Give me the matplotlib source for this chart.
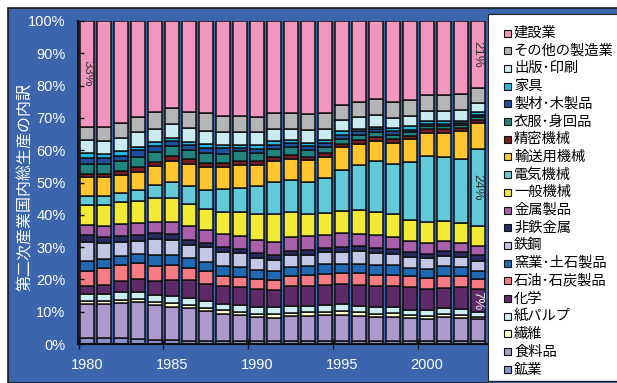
import numpy as np
import matplotlib
matplotlib.use('Agg')
import matplotlib.pyplot as plt
from matplotlib.patches import Rectangle

plt.rcParams['font.family'] = ['Noto Sans CJK JP', 'DejaVu Sans']

years = list(range(1980, 2004))

# shares of secondary-industry GDP (%), stacked bottom to top
mining = [1.8, 1.8, 1.8, 1.5, 1.2, 1.2, 1.0, 1.0, 1.0, 1.0, 1.0, 1.0,
          1.0, 1.0, 1.0, 1.0, 1.0, 1.0, 1.0, 1.0, 1.0, 1.0, 1.0, 1.0]
food = [10.6, 10.5, 10.9, 11.4, 10.9, 10.3, 10.2, 9.1, 8.4, 8.0, 7.4, 7.2,
        7.6, 7.8, 7.9, 8.0, 7.8, 7.4, 7.5, 7.1, 6.6, 7.3, 7.2, 6.7]
textile = [1.0, 1.0, 1.0, 1.0, 0.8, 1.2, 1.0, 1.0, 1.0, 0.9, 1.0, 1.0,
           1.0, 1.0, 1.0, 1.2, 1.0, 1.0, 1.0, 1.0, 1.0, 1.0, 0.8, 0.7]
pulp = [2.1, 2.1, 2.4, 2.3, 2.3, 2.1, 2.1, 2.3, 2.0, 2.2, 2.1, 2.2,
        2.3, 2.1, 2.1, 2.1, 1.9, 2.0, 2.0, 1.5, 1.8, 1.7, 1.8, 1.5]
chemical = [2.6, 3.0, 3.3, 3.9, 4.4, 5.0, 5.4, 5.2, 5.5, 5.6, 5.4, 5.2,
            6.0, 6.2, 6.2, 6.2, 6.6, 6.5, 6.5, 7.2, 6.5, 6.4, 6.7, 7.0]
petroleum = [4.5, 5.2, 5.0, 4.9, 4.6, 4.6, 3.9, 3.9, 3.1, 3.1, 3.1, 3.1,
             3.1, 3.2, 3.6, 3.4, 3.6, 3.6, 3.4, 3.3, 3.6, 3.8, 3.6, 3.3]
ceramic = [3.1, 2.7, 2.8, 2.9, 3.3, 3.1, 2.9, 2.9, 3.1, 2.9, 2.8, 2.8,
           2.8, 2.8, 3.0, 3.0, 2.9, 2.9, 3.1, 2.4, 2.6, 2.9, 2.7, 2.4]
steel = [6.0, 4.9, 4.3, 4.1, 5.0, 4.6, 4.3, 4.5, 4.4, 4.4, 3.9, 3.6,
         3.7, 3.6, 3.6, 3.7, 3.9, 3.8, 3.5, 3.3, 3.4, 3.1, 3.1, 3.1]
nonferrous = [1.9, 1.8, 1.9, 1.8, 1.8, 2.1, 1.3, 1.3, 1.5, 1.4, 1.5, 1.5,
              1.4, 1.3, 1.3, 1.4, 1.5, 1.5, 1.3, 1.7, 1.4, 1.5, 1.5, 1.8]
metal = [3.3, 3.4, 3.6, 3.6, 3.6, 3.6, 4.3, 4.1, 4.0, 3.9, 4.1, 4.1,
         4.1, 4.3, 4.1, 4.4, 4.0, 4.1, 3.8, 3.5, 3.4, 3.3, 3.0, 2.8]
general_mach = [6.2, 6.7, 7.0, 7.0, 7.4, 7.4, 7.0, 6.5, 7.0, 7.4, 8.0, 8.6,
                8.0, 7.0, 6.7, 6.9, 7.2, 7.2, 7.0, 6.5, 6.5, 6.2, 6.2, 6.3]
electrical = [2.6, 2.6, 2.8, 3.3, 3.9, 5.0, 5.6, 5.9, 6.9, 7.5, 8.7, 9.8,
              9.8, 10.0, 10.8, 12.7, 13.9, 15.7, 15.5, 17.7, 20.3, 19.6, 19.6, 23.8]
transport = [6.0, 6.0, 5.5, 5.7, 6.0, 6.6, 6.8, 7.2, 6.8, 7.0, 6.5, 6.6,
             6.5, 6.7, 6.7, 6.9, 6.7, 6.2, 6.7, 7.2, 7.2, 7.5, 8.8, 8.1]
precision = [1.0, 1.0, 1.2, 1.3, 1.2, 1.5, 1.5, 1.2, 1.2, 1.5, 1.3, 1.1,
             1.2, 1.0, 1.2, 1.0, 1.1, 1.3, 1.2, 1.1, 1.3, 1.3, 1.0, 1.0]
apparel = [3.1, 3.1, 3.1, 3.3, 3.1, 2.9, 2.8, 2.9, 2.9, 2.8, 2.3, 2.6,
           2.4, 2.1, 1.9, 1.7, 1.5, 1.5, 1.3, 1.0, 0.9, 0.9, 0.8, 0.7]
lumber = [1.8, 1.8, 1.5, 2.1, 1.8, 1.5, 1.5, 1.8, 1.8, 1.0, 1.3, 1.2,
          1.2, 1.2, 1.0, 1.2, 1.2, 0.8, 1.0, 0.9, 0.7, 0.7, 0.7, 0.8]
furniture = [1.5, 1.2, 1.5, 1.0, 1.3, 1.2, 1.0, 1.0, 1.0, 1.0, 1.2, 1.2,
             1.0, 1.0, 1.0, 1.0, 0.8, 0.7, 1.0, 1.0, 0.8, 0.8, 0.6, 0.7]
printing = [4.1, 3.9, 4.3, 4.4, 4.1, 4.1, 4.3, 4.2, 4.1, 3.9, 3.9, 3.9,
            3.6, 3.9, 3.6, 3.6, 3.8, 3.6, 3.3, 3.2, 3.1, 3.1, 3.3, 2.9]
other_mfg = [4.1, 4.6, 4.4, 4.9, 5.2, 5.0, 5.0, 5.4, 5.0, 5.2, 4.9, 4.9,
             4.9, 4.9, 4.9, 4.6, 4.4, 4.9, 4.7, 4.9, 5.0, 5.0, 4.9, 4.6]
construction = [32.7, 32.7, 31.7, 29.6, 28.1, 27.0, 28.1, 28.6, 29.3, 29.3, 29.6, 28.4,
                28.4, 28.9, 28.4, 26.0, 25.2, 24.3, 25.2, 24.5, 22.9, 22.9, 22.7, 20.8]

sectors = ['鉱業', '食料品', '繊維', '紙パルプ', '化学', '石油･石炭製品',
           '窯業･土石製品', '鉄鋼', '非鉄金属', '金属製品', '一般機械',
           '電気機械', '輸送用機械', '精密機械', '衣服･身回品', '製材･木製品',
           '家具', '出版･印刷', 'その他の製造業', '建設業']
series = [mining, food, textile, pulp, chemical, petroleum, ceramic, steel,
          nonferrous, metal, general_mach, electrical, transport, precision,
          apparel, lumber, furniture, printing, other_mfg, construction]
colors = ['#8C93CB', '#AD99CB', '#FFFFCC', '#CCEEF2', '#5E2A68', '#F47C82',
          '#1F69B5', '#C3C6E4', '#2A2B62', '#A95FAA', '#F2EA34', '#62C9D8',
          '#FFC630', '#7A1C22', '#21857E', '#1F4F9F', '#23B7E5', '#CAEBF1',
          '#B5B5B5', '#F296BE']

blue = '#3B65AD'
W, H = 617, 383


def fx(px):
    return px / W


def fy(py):
    return 1 - py / H


fig = plt.figure(figsize=(W / 100, H / 100), dpi=100, facecolor='white')
bg = Rectangle((fx(8), 0), 1 - fx(8) + 0.01, fy(8), transform=fig.transFigure,
               facecolor=blue, edgecolor='#1a1a1a', linewidth=1.2, zorder=-10)
fig.patches.append(bg)

ax = fig.add_axes([fx(78), fy(344), fx(487) - fx(78), fy(21) - fy(344)])
ax.set_facecolor('none')

bottom = np.zeros(len(years))
bottoms = []
for name, vals, col in zip(sectors, series, colors):
    vals = np.array(vals)
    bottoms.append(bottom.copy())
    ax.bar(years, vals, width=0.82, bottom=bottom, color=col,
           edgecolor='#111111', linewidth=1.1, label=name)
    bottom += vals

ax.set_xlim(1979.47, 2003.55)
ax.set_ylim(0, 100)

for side in ['top', 'right']:
    ax.spines[side].set_visible(False)
for side in ['left', 'bottom']:
    ax.spines[side].set_color('#111111')
    ax.spines[side].set_linewidth(1.5)

tick_font = {'family': 'Liberation Sans', 'size': 10.5}
ax.set_yticks(range(0, 101, 10))
ax.set_yticklabels([f'{v}%' for v in range(0, 101, 10)], fontdict=tick_font, color='white')
ax.tick_params(axis='y', direction='in', length=4, width=1, color='#111111', pad=9)

ax.set_xticks(years[::5])
ax.set_xticklabels([str(y) for y in years[::5]], fontdict=tick_font, color='white')
ax.tick_params(axis='x', which='major', length=0, pad=10)
ax.set_xticks([y - 0.5 for y in years[::5]], minor=True)
ax.tick_params(axis='x', which='minor', direction='inout', length=7, width=1, color='#111111')

fig.text(fx(25), fy(187), '第二次産業国内総生産の内訳', rotation=90, color='white',
         fontsize=11.5, ha='center', va='center')

# value labels on selected segments
idx_c = sectors.index('建設業')
idx_e = sectors.index('電気機械')
idx_ch = sectors.index('化学')
notes = [(0, idx_c, '#333333'), (23, idx_c, '#333333'),
         (23, idx_e, '#333333'), (23, idx_ch, '#EEEEEE')]
for i, k, col in notes:
    v = series[k][i]
    ax.text(years[i], bottoms[k][i] + v / 2, f'{v:.0f}%', rotation=270,
            ha='center', va='center', fontsize=9.5, color=col,
            family='Liberation Sans')

# legend panel
lax = fig.add_axes([fx(488), 0, 1 - fx(488), fy(14)])
lax.set_xlim(0, W - 488)
lax.set_ylim(H, 14)
lax.set_facecolor('white')
for s in lax.spines.values():
    s.set_color('#222222')
    s.set_linewidth(0.8)
lax.spines['right'].set_visible(False)
lax.set_xticks([])
lax.set_yticks([])
lax.axhline(381, color='#222222', linewidth=0.8)
lax.axhspan(381, H, color=blue)

for i, (name, col) in enumerate(zip(sectors[::-1], colors[::-1])):
    yy = 33 + i * 17.7
    lax.add_patch(Rectangle((16, yy - 3.5), 7, 7, facecolor=col,
                            edgecolor='#111111', linewidth=0.8))
    lax.text(26, yy, name, fontsize=10.3, va='center', ha='left', color='black')

fig.savefig('out.png', dpi=100, facecolor=fig.get_facecolor())
